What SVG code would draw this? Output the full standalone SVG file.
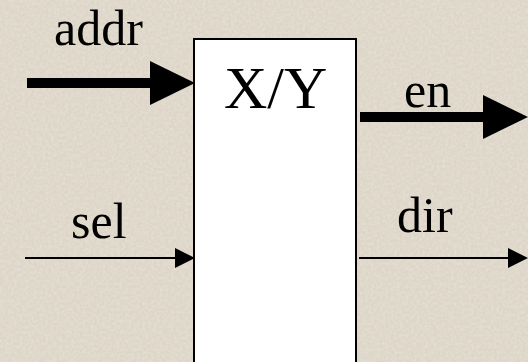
<svg xmlns="http://www.w3.org/2000/svg" width="528" height="362" viewBox="0 0 528 362">
  <defs>
    <style>
      .lbl { font-family: "Liberation Serif", "Times New Roman", serif; font-size: 50px; fill: #000; }
      .title { font-family: "Liberation Serif", "Times New Roman", serif; font-size: 60px; fill: #000; }
      .bus { stroke: #000; stroke-width: 10; fill: none; }
      .wire { stroke: #000; stroke-width: 2; fill: none; }
    </style>
    <!-- wide head for bus arrows, starts where the shaft ends -->
    <marker id="busHead" markerUnits="userSpaceOnUse" viewBox="0 0 45 44" refX="0" refY="22" markerWidth="45" markerHeight="44" orient="auto">
      <path d="M0,0 L45,22 L0,44 Z" fill="#000"/>
    </marker>
    <!-- small head for single-bit wires -->
    <marker id="wireHead" markerUnits="userSpaceOnUse" viewBox="0 0 20 20" refX="0" refY="10" markerWidth="20" markerHeight="20" orient="auto">
      <path d="M0,0 L20,10 L0,20 Z" fill="#000"/>
    </marker>
    <filter id="grain" x="0" y="0" width="100%" height="100%">
      <feTurbulence type="fractalNoise" baseFrequency="0.35" numOctaves="2" seed="7" result="n"/>
      <feColorMatrix in="n" type="matrix" values="0 0 0 0 1  0 0 0 0 1  0 0 0 0 1  0 0 0 -1.6 1.1"/>
    </filter>
  </defs>

  <!-- paper background -->
  <rect width="528" height="362" fill="#DDD5C7"/>
  <rect width="528" height="362" filter="url(#grain)" opacity="0.25"/>

  <!-- block -->
  <g id="block">
    <rect x="194" y="39" width="162" height="340" fill="#FFFFFF" stroke="#000" stroke-width="2"/>
    <text class="title" x="224" y="108">X/Y</text>
  </g>

  <!-- port connectors -->
  <g id="connectors">
    <line class="bus" x1="27" y1="83" x2="150" y2="83" marker-end="url(#busHead)"/>
    <line class="bus" x1="360" y1="117" x2="483" y2="117" marker-end="url(#busHead)"/>
    <line class="wire" x1="25" y1="258" x2="175" y2="258" marker-end="url(#wireHead)"/>
    <line class="wire" x1="359" y1="258" x2="508" y2="258" marker-end="url(#wireHead)"/>
  </g>

  <g id="port-addr"><text class="lbl" x="54" y="45">addr</text></g>
  <g id="port-en"><text class="lbl" x="404" y="107">en</text></g>
  <g id="port-sel"><text class="lbl" x="71" y="238">sel</text></g>
  <g id="port-dir"><text class="lbl" x="397" y="232">dir</text></g>
</svg>
